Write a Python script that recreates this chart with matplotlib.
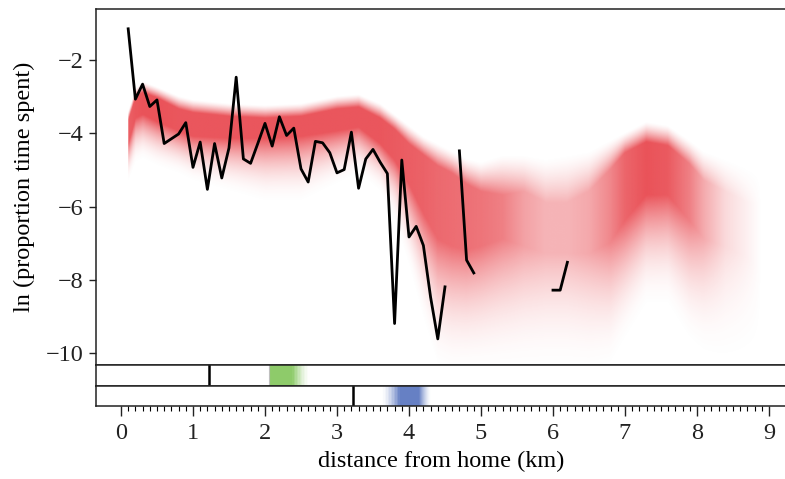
import numpy as np
import matplotlib
matplotlib.use("Agg")
import matplotlib.pyplot as plt
from matplotlib.colors import to_rgb

plt.rcParams['font.family'] = ['Liberation Serif', 'DejaVu Serif']

# ---- observed line (ln proportion time spent) ----
obs_x = [0.1, 0.2, 0.3, 0.4, 0.5, 0.6, 0.7, 0.8, 0.9, 1.0, 1.1, 1.2, 1.3, 1.4, 1.5,
         1.6, 1.7, 1.8, 1.9, 2.0, 2.1, 2.2, 2.3, 2.4, 2.5, 2.6, 2.7, 2.8, 2.9, 3.0,
         3.1, 3.2, 3.3, 3.4, 3.5, 3.6, 3.7, 3.8, 3.9, 4.0, 4.1, 4.2, 4.3, 4.4, 4.5,
         4.6, 4.7, 4.8, 4.9, 5.0, 6.0, 6.1, 6.2]
obs_y = [-1.15, -3.07, -2.66, -3.27, -3.09, -4.28, -4.15, -4.02, -3.71, -4.93, -4.24,
         -5.53, -4.28, -5.22, -4.40, -2.47, -4.70, -4.82, -4.28, -3.73, -4.35, -3.55,
         -4.06, -3.86, -4.97, -5.33, -4.22, -4.26, -4.53, -5.08, -4.99, -3.97, -5.50,
         -4.70, -4.44, -4.79, -5.10, -9.19, -4.73, -6.83, -6.54, -7.06, -8.47, -9.61,
         -8.19, np.nan, -4.48, -7.46, -7.81, np.nan, -8.28, -8.28, -7.52]

# ---- model band (posterior predictive envelope) ----
band_x   = [0.1, 0.2, 0.3, 0.5, 0.8, 1.0, 1.5, 2.0, 2.5, 3.0, 3.3, 3.6, 3.8, 4.0, 4.2,
            4.4, 4.6, 4.8, 5.0, 5.3, 5.6, 5.9, 6.2, 6.5, 6.8, 7.0, 7.3, 7.6, 7.9, 8.1,
            8.4, 8.7, 8.9]
band_top = [-3.4, -2.8, -2.6, -2.75, -3.0, -3.1, -3.2, -3.25, -3.2, -3.0, -2.95, -3.2,
            -3.5, -3.8, -4.1, -4.3, -4.5, -4.7, -4.8, -4.6, -4.6, -4.7, -4.6, -4.5, -4.2,
            -4.0, -3.7, -3.8, -4.2, -4.5, -4.7, -4.9, -5.0]
band_hi  = [-3.65, -3.0, -2.9, -3.05, -3.35, -3.45, -3.55, -3.6, -3.55, -3.35, -3.3, -3.6,
            -3.9, -4.3, -4.6, -4.9, -5.1, -5.4, -5.6, -5.7, -5.6, -5.9, -5.9, -5.6, -5.0,
            -4.55, -4.25, -4.35, -4.85, -5.3, -5.6, -5.9, -6.0]
band_lo  = [-4.3, -3.6, -3.5, -3.7, -3.95, -4.1, -4.15, -4.15, -4.1, -3.95, -3.85, -4.3,
            -4.75, -5.4, -6.2, -6.9, -7.1, -7.2, -7.1, -6.9, -7.1, -7.3, -7.3, -7.3, -7.0,
            -6.4, -5.7, -5.7, -6.4, -6.9, -7.1, -7.4, -7.8]
band_bot = [-5.4, -4.9, -4.8, -5.0, -5.2, -5.4, -5.7, -6.0, -6.0, -5.5, -5.2, -5.7,
            -6.5, -7.8, -9.3, -10.6, -10.8, -10.8, -10.8, -10.8, -10.8, -10.8, -10.8,
            -10.8, -10.6, -9.9, -8.9, -8.9, -9.9, -10.3, -10.6, -10.6, -10.6]
band_den = [0.85, 0.9, 0.92, 0.92, 0.9, 0.9, 0.9, 0.9, 0.9, 0.9, 0.9, 0.9, 0.88, 0.86,
            0.84, 0.8, 0.78, 0.76, 0.74, 0.68, 0.5, 0.4, 0.4, 0.46, 0.64, 0.82, 0.92,
            0.88, 0.68, 0.45, 0.2, 0.08, 0.0]

# ---- strips ----
strip1_mark = 1.22
strip1_band = [2.07, 2.38, 2.62]     # solid start, solid end, fade end
strip2_mark = 3.22
strip2_band = [3.62, 3.87, 4.14, 4.30]  # fade start, solid start, solid end, fade end

xticks_major = [0, 1, 2, 3, 4, 5, 6, 7, 8, 9]
yticks = [-10, -8, -6, -4, -2]

W, H = 785, 479
fig = plt.figure(figsize=(W / 100, H / 100), dpi=100)
x0, x1 = -0.347, 9.25
left = 96 / W
width = (x1 - x0) * 72 / W


def fy(p):
    return 1 - p / H


ax = fig.add_axes([left, fy(365.3), width, fy(9) - fy(365.3)])
s1 = fig.add_axes([left, fy(386), width, fy(365.3) - fy(386)])
s2 = fig.add_axes([left, fy(406), width, fy(386) - fy(406)])

y0, y1 = -10.33, -0.61
# red band image
gx = np.linspace(x0, x1, 900)
gy = np.linspace(y0, y1, 500)
top = np.interp(gx, band_x, band_top, left=np.nan, right=np.nan)
hi = np.interp(gx, band_x, band_hi, left=np.nan, right=np.nan)
lo = np.interp(gx, band_x, band_lo, left=np.nan, right=np.nan)
bot = np.interp(gx, band_x, band_bot, left=np.nan, right=np.nan)
den = np.interp(gx, band_x, band_den, left=0, right=0)
Y = gy[:, None]
up = np.clip((top[None, :] - Y) / (top[None, :] - hi[None, :]), 0, 1)
dn = np.clip((Y - bot[None, :]) / (lo[None, :] - bot[None, :]), 0, 1)
a = np.minimum(up ** 1.4, dn ** 2.2)
a = np.nan_to_num(a) * den[None, :]
red = to_rgb('#e8434a')
img = np.zeros((gy.size, gx.size, 4))
img[..., 0], img[..., 1], img[..., 2] = red
img[..., 3] = a
ax.imshow(img, extent=[x0, x1, y0, y1], origin='lower', aspect='auto',
          interpolation='bilinear', zorder=1)

ax.plot(obs_x, obs_y, color='black', lw=2.0, zorder=3)
ax.set_xlim(x0, x1)
ax.set_ylim(y0, y1)
ax.set_yticks(yticks)
ax.set_xticks([])
ax.tick_params(axis='y', direction='out', length=5, width=1, labelsize=17.5, pad=4)
ax.set_ylabel('ln (proportion time spent)', fontsize=17.5, labelpad=8)

# strip 1
green = to_rgb('#8ecb6a')
s1.axvspan(strip1_band[0], strip1_band[1], color=green, lw=0)
n = 12
for i in range(n):
    f0 = strip1_band[1] + (strip1_band[2] - strip1_band[1]) * i / n
    f1 = strip1_band[1] + (strip1_band[2] - strip1_band[1]) * (i + 1) / n
    s1.axvspan(f0, f1, color=green, alpha=(1 - (i + 0.5) / n) ** 1.5, lw=0)
s1.axvline(strip1_band[0] - 0.02, color='0.75', lw=0.8)
s1.axvline(strip1_mark, color='black', lw=1.8)

# strip 2
blue = to_rgb('#6680c4')
s2.axvspan(strip2_band[1], strip2_band[2], color=blue, lw=0)
for i in range(n):
    f0 = strip2_band[1] - (strip2_band[1] - strip2_band[0]) * i / n
    f1 = strip2_band[1] - (strip2_band[1] - strip2_band[0]) * (i + 1) / n
    s2.axvspan(f1, f0, color=blue, alpha=(1 - (i + 0.5) / n) ** 1.5, lw=0)
    g0 = strip2_band[2] + (strip2_band[3] - strip2_band[2]) * i / n
    g1 = strip2_band[2] + (strip2_band[3] - strip2_band[2]) * (i + 1) / n
    s2.axvspan(g0, g1, color=blue, alpha=(1 - (i + 0.5) / n) ** 1.5, lw=0)
s2.axvline(strip2_mark, color='black', lw=1.8)

for s in (s1, s2):
    s.set_xlim(x0, x1)
    s.set_ylim(0, 1)
    s.set_yticks([])
s1.set_xticks([])
s2.set_xticks(xticks_major)
s2.set_xticks(np.arange(0, 9.01, 0.1), minor=True)
s2.tick_params(axis='x', which='major', direction='out', length=7, width=1,
               labelsize=17.5, pad=5)
s2.tick_params(axis='x', which='minor', direction='out', length=3.5, width=0.8)
s2.set_xlabel('distance from home (km)', fontsize=17.5, labelpad=5)

for a_ in (ax, s1, s2):
    for sp in a_.spines.values():
        sp.set_color('#222222')
        sp.set_linewidth(1.1)
    a_.spines['right'].set_visible(False)
    a_.tick_params(colors='#222222')

fig.savefig('out.png', dpi=100)
